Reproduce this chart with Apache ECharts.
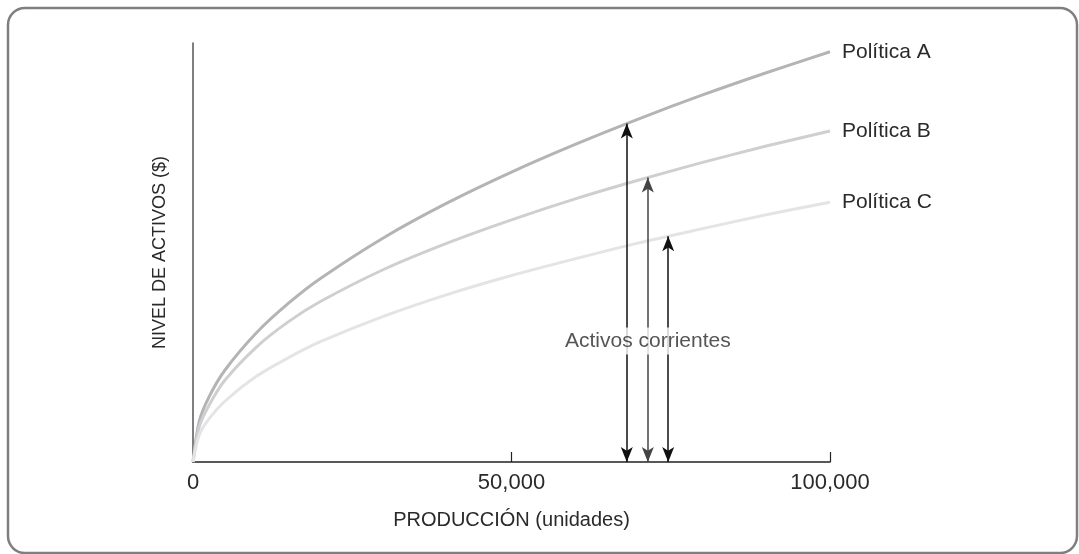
<!DOCTYPE html>
<html>
<head>
<meta charset="utf-8">
<script src="https://cdn.jsdelivr.net/npm/echarts@6/dist/echarts.min.js"></script>
<style>
html,body{margin:0;padding:0;background:#fff;}
#chart{width:1079px;height:554px;}
</style>
</head>
<body>
<div id="chart"></div>
<script>
// Production (units)
const produccion = [0, 1000, 2500, 5000, 10000, 15000, 20000, 30000, 40000, 50000, 60000, 70000, 80000, 90000, 100000];
// Asset level (relative units)
const politicaA = [0, 9.8, 15.5, 21.9, 30.9, 37.9, 43.8, 53.6, 61.9, 69.2, 75.8, 81.9, 87.6, 92.9, 97.9];
const politicaB = [0, 8.5, 13.5, 19.5, 27.5, 33.5, 38.3, 46.0, 52.3, 57.8, 62.8, 67.3, 71.5, 75.4, 79.0];
const politicaC = [0, 6.5, 10.3, 14.5, 20.5, 24.9, 28.7, 34.8, 40.0, 44.5, 48.5, 52.3, 55.7, 59.0, 62.0];
const seriesNames = ['Política A', 'Política B', 'Política C'];
// Current-asset arrows
const arrowX = [68100, 71400, 74600];
const arrowTop = [80.8, 67.9, 53.9];
const arrowLabel = 'Activos corrientes';
const arrowLabelPos = [71400, 28.9];
const xTicks = [0, 50000, 100000];

const FONT = 'Liberation Sans, Arial, sans-serif';
const pair = (xs, ys) => xs.map((x, i) => [x, ys[i]]);
const curveColors = ['#b4b4b7', '#cfcfd1', '#e4e4e6'];
const arrowColors = ['#111', '#444', '#111'];

const chart = echarts.init(document.getElementById('chart'));
const lineSeries = [politicaA, politicaB, politicaC].map((vals, i) => ({
  name: seriesNames[i],
  type: 'line',
  data: pair(produccion, vals),
  smooth: 0.3,
  showSymbol: false,
  symbol: 'none',
  z: 2,
  lineStyle: {color: curveColors[i], width: 3},
  endLabel: {
    show: true, formatter: seriesNames[i], distance: 12,
    color: '#2a2a2a', fontSize: 21, fontFamily: FONT
  },
  emphasis: {disabled: true}
}));

chart.setOption({
  animation: false,
  backgroundColor: '#fff',
  graphic: [{
    type: 'rect',
    shape: {x: 8, y: 8, width: 1069, height: 545, r: 17},
    style: {fill: 'none', stroke: '#7f7f7f', lineWidth: 2.5},
    z: 0
  }],
  grid: {left: 193, right: 249, top: 43, bottom: 92},
  xAxis: {
    type: 'value', min: 0, max: 100000, interval: 50000,
    name: 'PRODUCCIÓN (unidades)', nameLocation: 'middle', nameGap: 48,
    nameTextStyle: {color: '#2a2a2a', fontSize: 20, fontFamily: FONT},
    axisLine: {show: true, lineStyle: {color: '#222', width: 1.5}},
    axisTick: {show: true, inside: true, length: 10, lineStyle: {color: '#222', width: 1.2}},
    axisLabel: {
      color: '#2a2a2a', fontSize: 22, fontFamily: FONT, margin: 10,
      formatter: v => xTicks.includes(v) ? v.toLocaleString('en-US') : ''
    },
    splitLine: {show: false}
  },
  yAxis: {
    type: 'value', min: 0, max: 100,
    name: 'NIVEL DE ACTIVOS ($)', nameLocation: 'middle', nameGap: 24,
    nameTextStyle: {color: '#2a2a2a', fontSize: 18, fontFamily: FONT},
    axisLine: {show: true, lineStyle: {color: '#555', width: 1.5}},
    axisTick: {show: false},
    axisLabel: {show: false},
    splitLine: {show: false}
  },
  series: [
    ...lineSeries,
    {
      type: 'line', data: [], z: 3, silent: true,
      markLine: {
        silent: true,
        symbol: ['arrow', 'arrow'],
        symbolSize: [9, 15],
        label: {show: false},
        emphasis: {disabled: true},
        data: arrowX.map((x, i) => [
          {coord: [x, 0], lineStyle: {color: arrowColors[i], width: 1.5, type: 'solid'}},
          {coord: [x, arrowTop[i]]}
        ])
      }
    },
    {
      type: 'scatter', z: 20, zlevel: 1, silent: true,
      symbolSize: 0,
      data: [arrowLabelPos],
      label: {
        show: true, position: 'inside', formatter: arrowLabel,
        color: '#2a2a2a', fontSize: 21, fontFamily: FONT,
        backgroundColor: '#fff', padding: [3, 2]
      }
    }
  ]
});
</script>
</body>
</html>
